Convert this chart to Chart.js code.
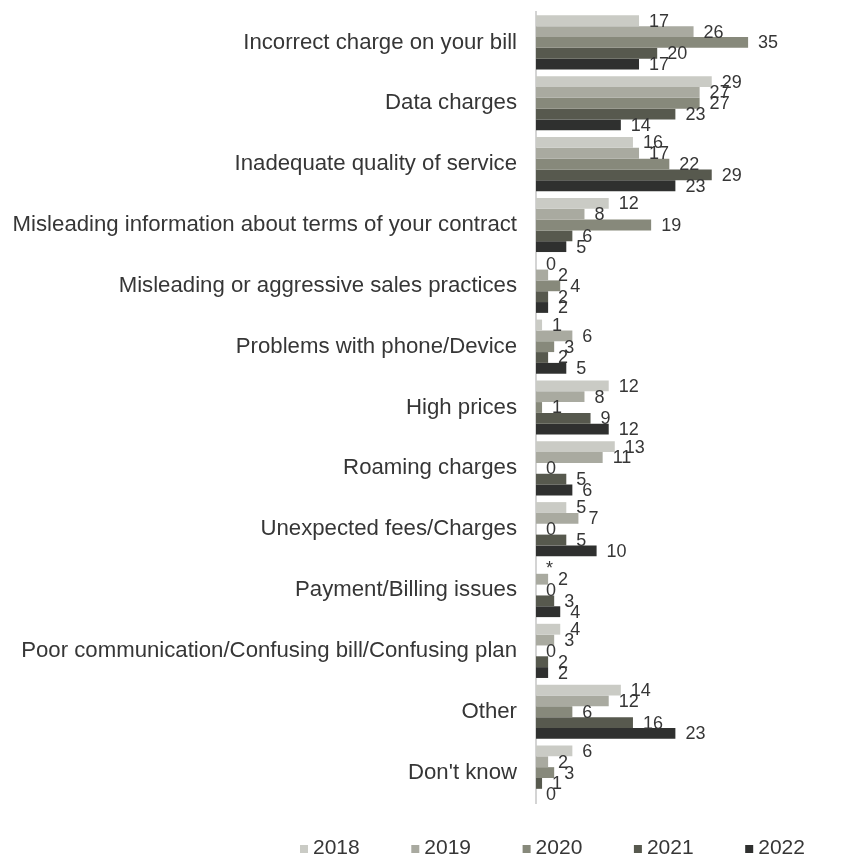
<!DOCTYPE html>
<html>
<head>
<meta charset="utf-8">
<script src="https://cdn.jsdelivr.net/npm/chart.js@4/dist/chart.umd.min.js"></script>
<style>
  html, body { margin: 0; padding: 0; background: #ffffff; }
  #wrap { width: 848px; height: 861px; position: relative; }
</style>
</head>
<body>
<div id="wrap"><canvas id="chart"></canvas></div>
<script>
// Complaint categories (top to bottom)
const categories = [
  'Incorrect charge on your bill',
  'Data charges',
  'Inadequate quality of service',
  'Misleading information about terms of your contract',
  'Misleading or aggressive sales practices',
  'Problems with phone/Device',
  'High prices',
  'Roaming charges',
  'Unexpected fees/Charges',
  'Payment/Billing issues',
  'Poor communication/Confusing bill/Confusing plan',
  'Other',
  "Don't know"
];

const years = ['2018', '2019', '2020', '2021', '2022'];

// Percent of respondents per year
const values2018 = [17, 29, 16, 12, 0, 1, 12, 13, 5, 0, 4, 14, 6];
const values2019 = [26, 27, 17, 8, 2, 6, 8, 11, 7, 2, 3, 12, 2];
const values2020 = [35, 27, 22, 19, 4, 3, 1, 0, 0, 0, 0, 6, 3];
const values2021 = [20, 23, 29, 6, 2, 2, 9, 5, 5, 3, 2, 16, 1];
const values2022 = [17, 14, 23, 5, 2, 5, 12, 6, 10, 4, 2, 23, 0];

// Values under 0.5% are shown with an asterisk instead of a number
const lessThanHalf = { '2018': ['Payment/Billing issues'] };

const seriesValues = [values2018, values2019, values2020, values2021, values2022];
const seriesColors = ['#cacbc5', '#a9aaa0', '#87897b', '#57594e', '#2f302f'];

const TEXT = '#363636';
const FONT = "'Liberation Sans', Arial, sans-serif";

// Value labels to the right of each bar
const valueLabels = {
  id: 'valueLabels',
  afterDatasetsDraw(chart) {
    const ctx = chart.ctx;
    ctx.save();
    ctx.font = '18px ' + FONT;
    ctx.fillStyle = TEXT;
    ctx.textAlign = 'left';
    ctx.textBaseline = 'middle';
    chart.data.datasets.forEach((ds, di) => {
      const meta = chart.getDatasetMeta(di);
      const starred = lessThanHalf[ds.label] || [];
      meta.data.forEach((bar, i) => {
        const cat = chart.data.labels[i];
        const text = starred.includes(cat) ? '*' : String(ds.data[i]);
        ctx.fillText(text, bar.x + 10, bar.y + 1);
      });
    });
    ctx.restore();
  }
};

// Legend row along the bottom edge
const bottomLegend = {
  id: 'bottomLegend',
  afterDraw(chart) {
    const ctx = chart.ctx;
    const startX = 300, step = 111.3, y = 848, box = 8;
    ctx.save();
    ctx.font = '21px ' + FONT;
    ctx.textAlign = 'left';
    ctx.textBaseline = 'middle';
    chart.data.datasets.forEach((ds, i) => {
      const x = startX + i * step;
      ctx.fillStyle = ds.backgroundColor;
      ctx.fillRect(x, y - box / 2 + 1, box, box);
      ctx.fillStyle = TEXT;
      ctx.fillText(ds.label, x + 13, y);
    });
    ctx.restore();
  }
};

const datasets = years.map((yr, i) => ({
  label: yr,
  data: seriesValues[i],
  backgroundColor: seriesColors[i],
  borderWidth: 0,
  categoryPercentage: 0.89,
  barPercentage: 1.0
}));

new Chart(document.getElementById('chart'), {
  type: 'bar',
  data: { labels: categories, datasets },
  plugins: [valueLabels, bottomLegend],
  options: {
    indexAxis: 'y',
    responsive: true,
    maintainAspectRatio: false,
    animation: false,
    layout: { padding: { left: 0, right: 9, top: 12, bottom: 58 } },
    plugins: {
      legend: { display: false },
      tooltip: { enabled: false }
    },
    scales: {
      x: {
        display: false,
        min: 0,
        max: 50
      },
      y: {
        afterFit(scale) {
          scale.width = 536;
          scale.paddingTop = 0;
          scale.paddingBottom = 0;
        },
        grid: { display: false, drawTicks: false },
        border: { display: true, color: '#d4d4d4', width: 2 },
        ticks: {
          color: TEXT,
          padding: 19,
          font: { family: FONT, size: 22.2 }
        }
      }
    }
  }
});
</script>
</body>
</html>
